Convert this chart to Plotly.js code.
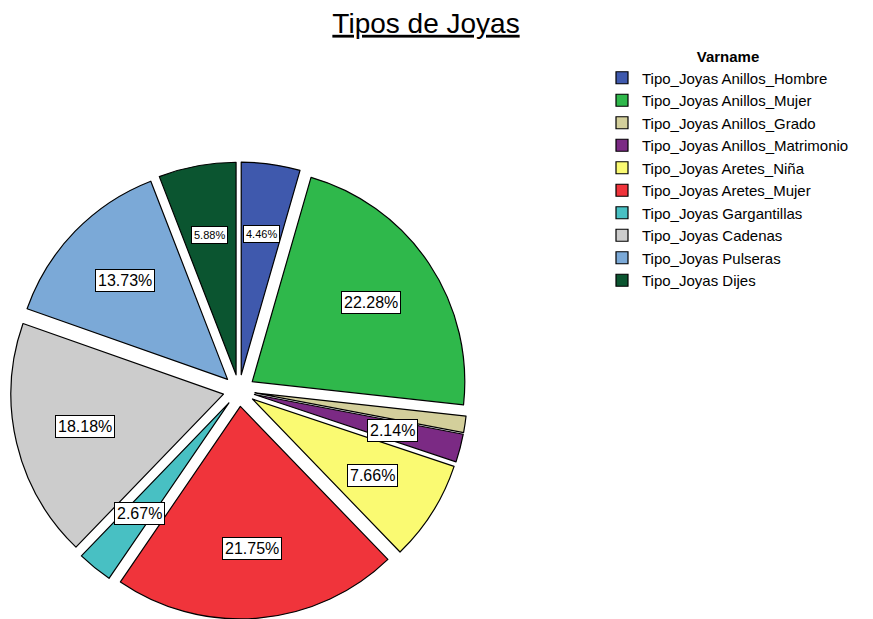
<!DOCTYPE html>
<html>
<head>
<meta charset="utf-8">
<script src="https://cdn.plot.ly/plotly-3.0.1.min.js"></script>
<style>html,body{margin:0;padding:0;background:#fff;}#chart{width:873px;height:619px;}</style>
</head>
<body>
<div id="chart"></div>
<script>
const categories = [
  "Tipo_Joyas Anillos_Hombre",
  "Tipo_Joyas Anillos_Mujer",
  "Tipo_Joyas Anillos_Grado",
  "Tipo_Joyas Anillos_Matrimonio",
  "Tipo_Joyas Aretes_Niña",
  "Tipo_Joyas Aretes_Mujer",
  "Tipo_Joyas Gargantillas",
  "Tipo_Joyas Cadenas",
  "Tipo_Joyas Pulseras",
  "Tipo_Joyas Dijes"
];
const percents = [4.46, 22.28, 1.25, 2.14, 7.66, 21.75, 2.67, 18.18, 13.73, 5.88];
const showLabel = [true, true, false, true, true, true, true, true, true, true];
const colors = ["#3f59ad", "#2fb84b", "#d3cf9b", "#7b2a84", "#fafa72", "#f0343b", "#48c0c3", "#cccccc", "#7ba9d7", "#0b5530"];

// style only: which labels use the small font
const smallLabelCats = ["Tipo_Joyas Anillos_Hombre", "Tipo_Joyas Dijes"];

const W = 873, H = 619;
const pullFrac = 0.075;
const FONT = "Liberation Sans, Arial, sans-serif";

const trace = {
  type: "pie",
  labels: categories,
  values: percents,
  sort: false,
  direction: "clockwise",
  rotation: 0,
  pull: percents.map(() => pullFrac),
  textinfo: "none",
  hoverinfo: "label+percent",
  marker: { colors: colors, line: { color: "#000000", width: 1.2 } },
  domain: { x: [10 / W, 468 / W], y: [1 - 619 / H, 1 - 162 / H] }
};

const layout = {
  width: W, height: H,
  margin: { l: 0, r: 0, t: 0, b: 0 },
  paper_bgcolor: "#ffffff",
  font: { family: FONT, color: "#000000" },
  title: {
    text: "<u>Tipos de Joyas</u>",
    font: { family: FONT, size: 28, color: "#000000" },
    x: 426 / W, xanchor: "center", xref: "paper",
    y: 1 - 23 / H, yanchor: "middle", yref: "paper"
  },
  showlegend: true,
  legend: {
    x: 602 / W, xanchor: "left",
    y: 1 - 42 / H, yanchor: "top",
    font: { family: FONT, size: 15, color: "#000000" },
    title: { text: "<b>Varname</b>", side: "top center", font: { family: FONT, size: 15 } },
    itemclick: false, tracegroupgap: 0,
    bgcolor: "rgba(0,0,0,0)"
  }
};

const gd = document.getElementById("chart");
Plotly.newPlot(gd, [trace], layout, { displayModeBar: false, staticPlot: true }).then(() => {
  const cd0 = gd.calcdata[0][0];
  const cx = cd0.cx, cy = cd0.cy, r = cd0.r;
  const total = percents.reduce((a, b) => a + b, 0);
  let cum = 0;
  const annotations = [];
  percents.forEach((v, i) => {
    const mid = (cum + v / 2) / total * 2 * Math.PI;
    cum += v;
    if (!showLabel[i]) return;
    const d = r * (pullFrac + 0.67);
    const px = cx + Math.sin(mid) * d;
    const py = cy - Math.cos(mid) * d;
    const small = smallLabelCats.indexOf(categories[i]) >= 0;
    annotations.push({
      xref: "paper", yref: "paper",
      x: px / W, y: 1 - py / H,
      xanchor: "center", yanchor: "middle",
      text: v.toFixed(2) + "%",
      showarrow: false,
      font: { family: FONT, size: small ? 11 : 16, color: "#000000" },
      bgcolor: "#ffffff", bordercolor: "#000000", borderwidth: 1, borderpad: 2
    });
  });
  return Plotly.relayout(gd, { annotations: annotations });
});
</script>
</body>
</html>
